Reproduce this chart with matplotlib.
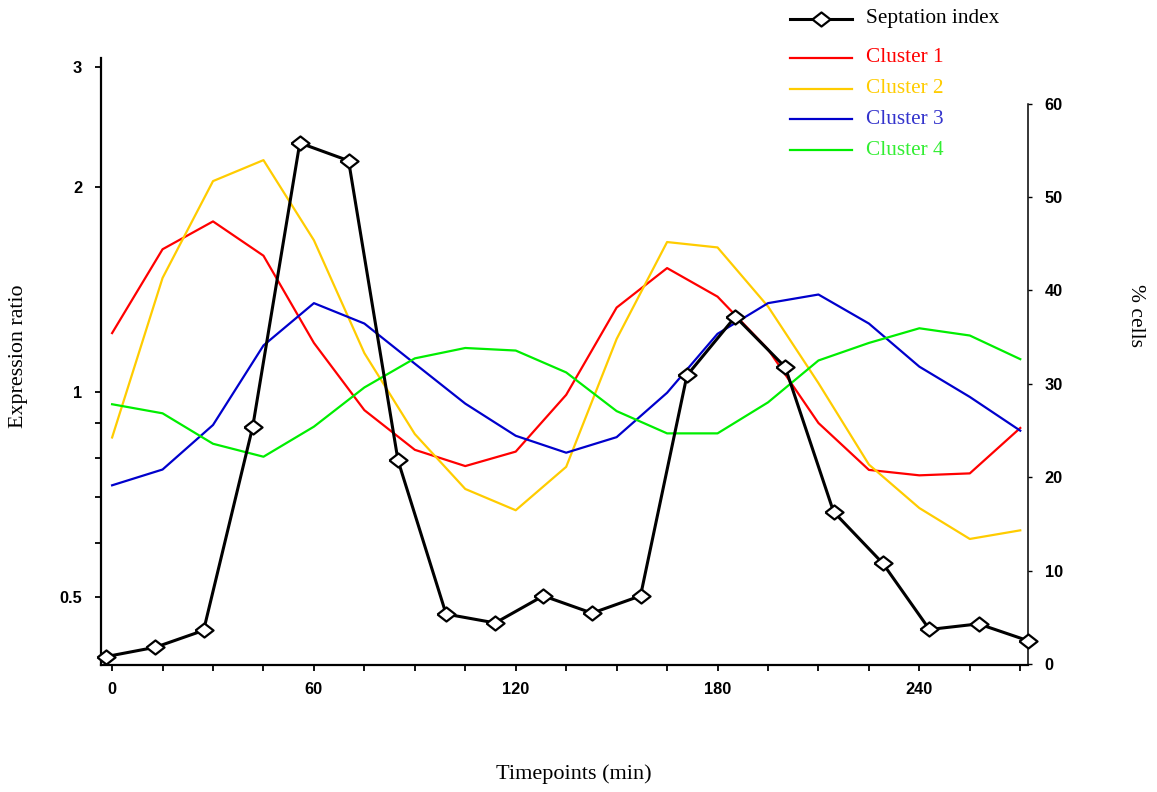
import matplotlib
matplotlib.use("Agg")
import matplotlib.pyplot as plt
from matplotlib.lines import Line2D
from matplotlib.ticker import FixedLocator, NullFormatter

# timepoints (min) for the cluster profiles
timepoints = [0, 15, 30, 45, 60, 75, 90, 105, 120, 135, 150, 165, 180, 195, 210, 225, 240, 255, 270]

cluster1 = [1.22, 1.62, 1.78, 1.585, 1.18, 0.94, 0.822, 0.778, 0.817, 0.99,
            1.33, 1.52, 1.38, 1.155, 0.90, 0.768, 0.754, 0.759, 0.885]
cluster2 = [0.857, 1.47, 2.04, 2.19, 1.67, 1.14, 0.867, 0.72, 0.67, 0.776,
            1.196, 1.66, 1.63, 1.335, 1.03, 0.782, 0.675, 0.608, 0.626]
cluster3 = [0.729, 0.769, 0.894, 1.17, 1.35, 1.26, 1.10, 0.961, 0.862, 0.814,
            0.858, 0.997, 1.217, 1.35, 1.39, 1.26, 1.089, 0.983, 0.877]
cluster4 = [0.959, 0.93, 0.839, 0.803, 0.889, 1.015, 1.12, 1.16, 1.15, 1.068,
            0.937, 0.869, 0.869, 0.965, 1.112, 1.18, 1.24, 1.21, 1.117]

# septation index (% cells), sampled on its own time grid
sept_t = [-1.7, 12.9, 27.2, 41.8, 55.8, 70.3, 85.0, 99.3, 113.9, 128.2,
          142.7, 157.1, 170.9, 185.3, 200.1, 214.5, 229.1, 243.0, 257.6, 272.3]
sept_pct = [0.8, 1.8, 3.6, 25.4, 55.8, 53.9, 21.8, 5.35, 4.4, 7.3,
            5.45, 7.3, 30.9, 37.2, 31.8, 16.3, 10.8, 3.7, 4.3, 2.5]

cluster_names = ["Cluster 1", "Cluster 2", "Cluster 3", "Cluster 4"]
cluster_colors = ["#FF0000", "#FFCC00", "#0000CC", "#00EE00"]
text_colors = ["#FF0000", "#FFCC00", "#3333CC", "#33EE33"]

left_ticks = [0.5, 1, 2, 3]
left_labels = ["0.5", "1", "2", "3"]
left_minor = [0.6, 0.7, 0.8, 0.9]
x_major = [0, 60, 120, 180, 240]
right_ticks = [0, 10, 20, 30, 40, 50, 60]

serif = "Liberation Serif"
sans = "Liberation Sans"

# wide, flat diamond like the spreadsheet marker
diamond = [(-1, 0), (0, 0.78), (1, 0), (0, -0.78), (-1, 0)]
mk = dict(marker=diamond, markersize=13, markerfacecolor="white",
          markeredgecolor="black", markeredgewidth=1.6)

fig = plt.figure(figsize=(11.57, 7.92), dpi=100)
ax = fig.add_axes([0.0873, 0.1604, 0.8012, 0.7664])

for vals, col in zip([cluster1, cluster2, cluster3, cluster4], cluster_colors):
    ax.plot(timepoints, vals, color=col, linewidth=1.6)

ax.set_yscale("log")
ax.set_ylim(0.397, 3.094)
ax.set_xlim(-3.3, 272.3)
ax.yaxis.set_major_locator(FixedLocator(left_ticks))
ax.set_yticklabels(left_labels)
ax.yaxis.set_minor_locator(FixedLocator(left_minor))
ax.yaxis.set_minor_formatter(NullFormatter())
ax.set_xticks(x_major)
ax.set_xticks(timepoints, minor=True)

for s in ["top", "right"]:
    ax.spines[s].set_visible(False)
for s in ["left", "bottom"]:
    ax.spines[s].set_linewidth(1.6)

ax.tick_params(axis="both", which="both", direction="out", length=4.5, width=1.3)
ax.tick_params(axis="y", which="major", pad=9)
ax.tick_params(axis="x", which="major", pad=8)
for lab in ax.get_xticklabels() + ax.get_yticklabels():
    lab.set_fontfamily(sans)
    lab.set_fontweight("bold")
    lab.set_fontsize(11.8)

# right axis: septation index
ax2 = ax.twinx()
ax2.plot(sept_t, sept_pct, color="black", linewidth=2.2, clip_on=False, zorder=5, **mk)
ax2.set_ylim(-0.1, 64.9)
ax2.set_yticks(right_ticks)
ax2.spines["right"].set_bounds(0, 60)
ax2.spines["right"].set_linewidth(1.1)
for s in ["top", "left", "bottom"]:
    ax2.spines[s].set_visible(False)
ax2.tick_params(axis="y", direction="out", length=3, width=1.0, pad=9)
for lab in ax2.get_yticklabels():
    lab.set_fontfamily(sans)
    lab.set_fontweight("bold")
    lab.set_fontsize(11.8)

# axis titles
fig.text(0.016, 0.5505, "Expression ratio", rotation=90, ha="center", va="center",
         fontsize=15.8, family=serif)
fig.text(0.981, 0.602, "% cells", rotation=-90, ha="center", va="center",
         fontsize=15.5, family=serif)
fig.text(0.496, 0.023, "Timepoints (min)", ha="center", va="center",
         fontsize=16, family=serif)

# legend drawn by hand (uneven spacing in the original)
lx0, lx1, tx = 790 / 1157, 852 / 1157, 866 / 1157
ys = 1 - 19 / 792
fig.add_artist(Line2D([lx0, lx1], [ys, ys], color="black", linewidth=2.2,
                      transform=fig.transFigure))
fig.add_artist(Line2D([(lx0 + lx1) / 2], [ys], linestyle="None",
                      transform=fig.transFigure, **mk))
fig.text(tx, ys, "Septation index", ha="left", va="center", fontsize=15.3, family=serif)

for i, (name, col, tcol) in enumerate(zip(cluster_names, cluster_colors, text_colors)):
    yy = 1 - (58 + i * 30.7) / 792
    fig.add_artist(Line2D([lx0, lx1], [yy, yy], color=col, linewidth=1.6,
                          transform=fig.transFigure))
    fig.text(tx, yy, name, ha="left", va="center", fontsize=15.3, family=serif, color=tcol)

fig.savefig("out.png", dpi=100)
plt.close(fig)
